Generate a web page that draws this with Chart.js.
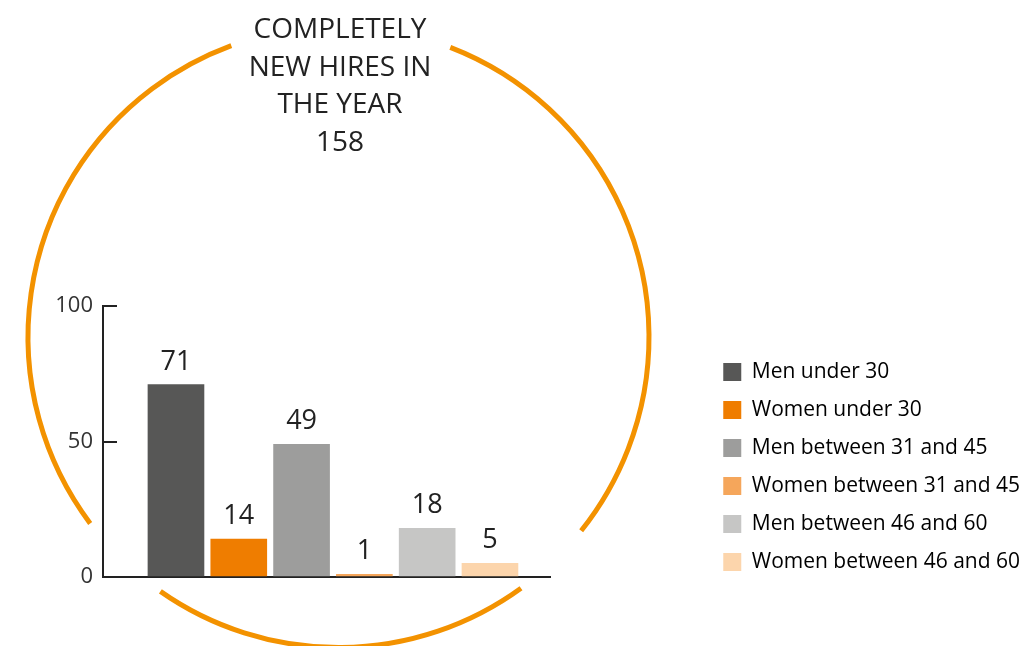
<!DOCTYPE html>
<html>
<head>
<meta charset="utf-8">
<title>Completely new hires in the year</title>
<script src="https://cdn.jsdelivr.net/npm/chart.js@4/dist/chart.umd.min.js"></script>
<style>
  html, body { margin: 0; padding: 0; background: #ffffff; }
  #wrap { position: relative; width: 1030px; height: 646px; }
</style>
</head>
<body>
<div id="wrap"><canvas id="hires" width="1030" height="646"></canvas></div>
<script>
// Hires by group
const categories = [
  'Men under 30',
  'Women under 30',
  'Men between 31 and 45',
  'Women between 31 and 45',
  'Men between 46 and 60',
  'Women between 46 and 60'
];
const hires = [71, 14, 49, 1, 18, 5];
const barColors = ['#575756', '#EF7D00', '#9D9D9C', '#F5A65B', '#C6C6C5', '#FCD5AC'];
const yTicks = [0, 50, 100];
const titleLines = ['COMPLETELY', 'NEW HIRES IN', 'THE YEAR'];

const FONT = "'Open Sans', 'DejaVu Sans', sans-serif";
const INK = '#222222';
const RING = { cx: 338.5, cy: 337, r: 310.5, width: 5, color: '#F39200' };
// open ring drawn as three arcs (degrees, canvas orientation)
const ringArcs = [[-68.9, 38.6], [54.0, 125.0], [143.1, 249.8]];

const total = hires.reduce((a, b) => a + b, 0);

const ringPlugin = {
  id: 'ring',
  beforeDraw(chart) {
    const ctx = chart.ctx;
    ctx.save();
    ctx.strokeStyle = RING.color;
    ctx.lineWidth = RING.width;
    ctx.lineCap = 'butt';
    ringArcs.forEach(([a, b]) => {
      ctx.beginPath();
      ctx.arc(RING.cx, RING.cy, RING.r, a * Math.PI / 180, b * Math.PI / 180);
      ctx.stroke();
    });
    ctx.restore();
  }
};

const headingPlugin = {
  id: 'heading',
  afterDraw(chart) {
    const ctx = chart.ctx;
    ctx.save();
    ctx.fillStyle = INK;
    ctx.textAlign = 'center';
    ctx.textBaseline = 'alphabetic';
    ctx.font = `400 28px ${FONT}`;
    const lines = titleLines.concat([String(total)]);
    lines.forEach((t, i) => ctx.fillText(t, 340, 38 + i * 37.5));
    ctx.restore();
  }
};

const valueLabels = {
  id: 'valueLabels',
  afterDatasetsDraw(chart) {
    const ctx = chart.ctx;
    const meta = chart.getDatasetMeta(0);
    ctx.save();
    ctx.fillStyle = INK;
    ctx.textAlign = 'center';
    ctx.textBaseline = 'alphabetic';
    ctx.font = `400 27px ${FONT}`;
    meta.data.forEach((bar, i) => {
      ctx.fillText(String(hires[i]), bar.x, bar.y - 15);
    });
    ctx.restore();
  }
};

new Chart(document.getElementById('hires'), {
  type: 'bar',
  data: {
    labels: categories,
    datasets: [{
      label: 'New hires',
      data: hires.map((v, i) => ({ x: i, y: v })),
      backgroundColor: barColors,
      borderWidth: 0,
      barThickness: 56
    }]
  },
  plugins: [ringPlugin, headingPlugin, valueLabels],
  options: {
    responsive: false,
    animation: false,
    events: [],
    devicePixelRatio: 1,
    layout: { padding: { top: 306, bottom: 18, left: 0, right: 0 } },
    scales: {
      x: {
        type: 'linear',
        offset: false,
        min: -1.162,
        max: 5.956,
        ticks: { display: false },
        grid: { display: false },
        border: { display: true, color: INK, width: 2 },
        afterFit(s) { s.height = 51; }
      },
      y: {
        min: 0,
        max: 100,
        afterBuildTicks(s) { s.ticks = yTicks.map(v => ({ value: v })); },
        border: { display: true, color: INK, width: 2 },
        grid: { display: true, drawOnChartArea: false, drawTicks: true, tickLength: -14, color: INK, lineWidth: 2 },
        ticks: { padding: 24, color: '#333333', font: { family: FONT, size: 22 } },
        afterFit(s) { s.width = 103; }
      },
      y2: {
        position: 'right',
        display: true,
        ticks: { display: false },
        grid: { display: false },
        border: { display: false },
        afterFit(s) { s.width = Math.max(0, s.chart.width - s.chart.legend.width - 550); }
      }
    },
    plugins: {
      title: { display: false },
      tooltip: { enabled: false },
      legend: {
        position: 'right',
        align: 'center',
        maxWidth: 420,
        labels: {
          boxWidth: 18,
          boxHeight: 18,
          padding: 17,
          color: INK,
          font: { family: FONT, size: 21 },
          generateLabels() {
            return categories.map((c, i) => ({
              text: c,
              fillStyle: barColors[i],
              strokeStyle: barColors[i],
              lineWidth: 0,
              hidden: false,
              index: i,
              datasetIndex: 0
            }));
          }
        }
      }
    }
  }
});
</script>
</body>
</html>
